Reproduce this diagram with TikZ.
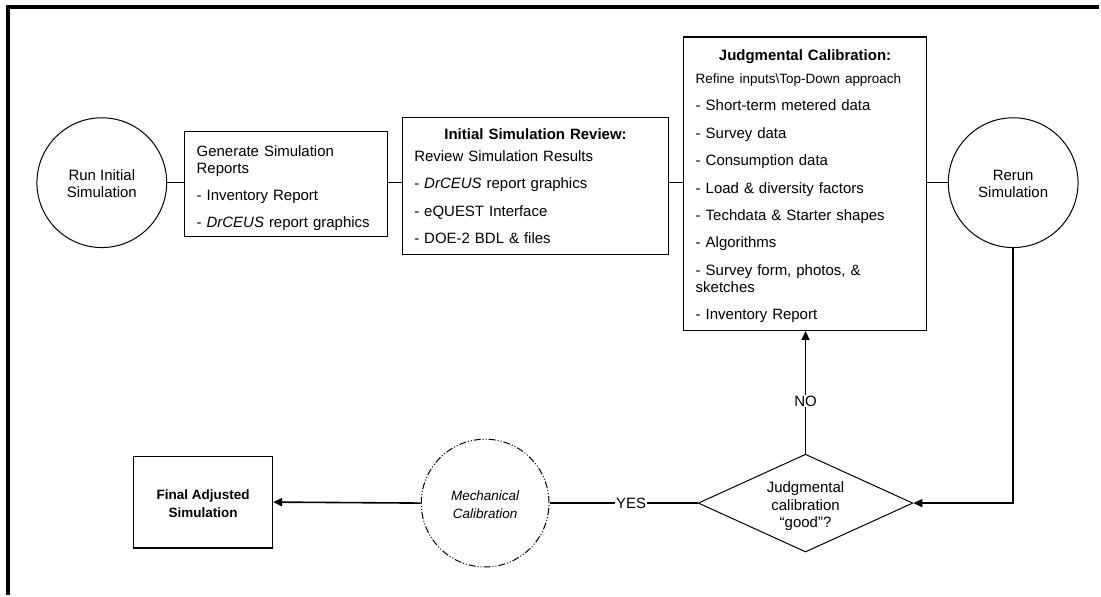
\documentclass[tikz,border=0pt]{standalone}
\usepackage{fontspec}
\setmainfont{Liberation Sans}
\usetikzlibrary{shapes.geometric,arrows.meta}

\begin{document}
\begin{tikzpicture}[x=1pt,y=-1pt,font=\fontsize{15}{17}\selectfont] % calibration flow
\tikzstyle{simcircle} = [circle, draw, line width=1pt, minimum size=130pt, inner sep=0pt, align=center] % simulation run
\tikzstyle{listbox} = [rectangle, draw, line width=1.2pt, inner sep=0pt, align=left] % box with a list
\tikzstyle{decision} = [diamond, draw, line width=1pt, aspect=2.2, minimum width=215pt, minimum height=98pt, inner sep=0pt, align=center, font=\fontsize{15}{18}\selectfont]
\tikzstyle{dashdot circle} = [dash pattern=on 7pt off 2pt on 1pt off 2pt on 1pt off 2pt]
\tikzstyle{link} = [line width=1.6pt] % plain connector
\tikzstyle{arrowlink} = [link, -{Triangle[length=9pt,width=8pt]}]
\tikzstyle{answer} = [fill=white, inner sep=1pt]
\newcommand{\boxtitle}[1]{\hspace*{\fill}\textbf{#1}\hspace*{\fill}\null}

\fill[white] (0,0) rectangle (1101,596);
\draw[line width=4pt] (8,596) -- (8,7) -- (1101,7); % frame

\node[simcircle] (runinit) at (102,183) {\rule{0pt}{13pt}Run Initial\\Simulation};
\node[listbox, minimum width=203pt, minimum height=105pt, text width=179pt] (genrep) at (286.5,184.5)
    {\rule{0pt}{19pt}Generate Simulation\\Reports\\[10pt]- Inventory Report\\[10pt]- \textit{DrCEUS} report graphics};
\node[listbox, minimum width=267pt, minimum height=137pt, text width=243pt] (review) at (536.5,186.5)
    {\boxtitle{Initial Simulation Review:}\\[5pt]
     Review Simulation Results\\[10.5pt]
     - \textit{DrCEUS} report graphics\\[10.5pt]
     - eQUEST Interface\\[10.5pt]
     - DOE-2 BDL \& files};
\node[listbox, minimum width=243pt, minimum height=294pt, text width=219pt] (judgcal) at (806.5,184)
    {\rule{0pt}{16pt}\boxtitle{Judgmental Calibration:}\\[6pt]
     {\fontsize{13.5}{17}\selectfont Refine inputs\textbackslash Top-Down approach}\\[10.5pt]
     - Short-term metered data\\[10.5pt]
     - Survey data\\[10.5pt]
     - Consumption data\\[10.5pt]
     - Load \& diversity factors\\[10.5pt]
     - Techdata \& Starter shapes\\[10.5pt]
     - Algorithms\\[10.5pt]
     - Survey form, photos, \&\\sketches\\[10.5pt]
     - Inventory Report};
\node[simcircle] (rerun) at (1015,183) {\rule{0pt}{13pt}Rerun\\Simulation};
\node[decision] (goodq) at (807,504) {\rule{0pt}{17pt}Judgmental\\calibration\\“good”?};
\node[simcircle, dashdot circle, minimum size=128pt, font=\itshape\fontsize{13.5}{18}\selectfont] (mechcal) at (486,504) {\rule{0pt}{13pt}Mechanical\\Calibration};
\node[listbox, align=center, minimum width=139pt, minimum height=92pt, font=\bfseries\fontsize{13.5}{18}\selectfont] (final) at (203.5,503) {\rule{0pt}{13pt}Final Adjusted\\Simulation};

\draw[link] (runinit.east) -- (runinit.east -| genrep.west);
\draw[link] (runinit.east -| genrep.east) -- (runinit.east -| review.west);
\draw[link] (runinit.east -| review.east) -- (runinit.east -| judgcal.west);
\draw[link] (judgcal.east |- rerun.west) -- (rerun.west);
\draw[arrowlink] (rerun.south) |- (goodq.east);
\draw[arrowlink] (goodq.north) -- node[answer, pos=0.43] {NO} (goodq.north |- judgcal.south);
\draw[link] (goodq.west) -- node[answer, pos=0.45] {YES} (mechcal.east);
\draw[arrowlink] (mechcal.west) -- (final.east);
\end{tikzpicture}
\end{document}
